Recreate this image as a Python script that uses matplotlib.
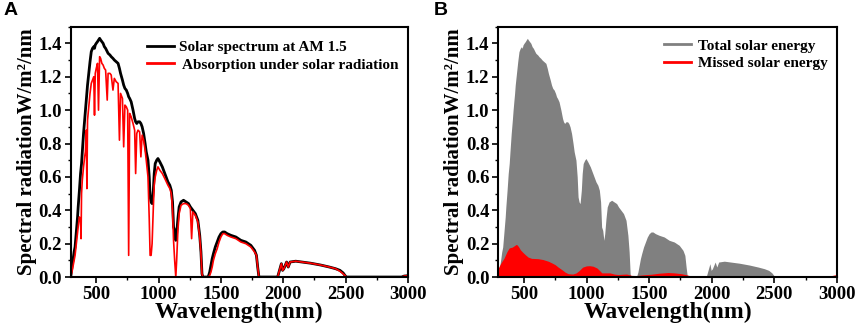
import matplotlib.pyplot as plt
from matplotlib.lines import Line2D
from matplotlib.ticker import MultipleLocator

# wavelength grid (nm) for the AM 1.5 spectrum and the absorbed part
wl = [295, 305, 315, 322, 330, 340, 350, 355, 365, 374, 378, 382, 388, 398, 407,
      413, 420, 425, 430, 440, 450, 460, 470, 480, 486, 492, 500, 510, 518, 527,
      535, 545, 555, 565, 575, 588, 595, 610, 620, 634, 645, 660, 675, 686, 695,
      710, 720, 730, 741, 752, 760, 768, 780, 795, 808, 816, 825, 835, 848, 858,
      868, 880, 892, 901, 915, 925, 932, 940, 948, 958, 965, 973, 985, 995, 1010,
      1030, 1050, 1075, 1090, 1102, 1112, 1120, 1129, 1138, 1145, 1155, 1165, 1180, 1200, 1220,
      1240, 1255, 1265, 1275, 1295, 1315, 1330, 1340, 1348, 1355, 1398, 1410, 1420, 1430, 1440,
      1455, 1470, 1485, 1500, 1515, 1530, 1550, 1580, 1620, 1660, 1700, 1740, 1770, 1785, 1795,
      1805, 1955, 1970, 1985, 1995, 2005, 2027, 2040, 2055, 2100, 2150, 2220, 2300, 2370, 2420,
      2455, 2480, 2495, 2505, 2950, 2970, 3000]

solar = [0.0, 0.06, 0.11, 0.15, 0.18, 0.27, 0.36, 0.42, 0.52, 0.62, 0.65, 0.68, 0.75, 0.86, 0.94,
         1.00, 1.06, 1.10, 1.15, 1.22, 1.29, 1.35, 1.37, 1.38, 1.37, 1.39, 1.40, 1.41, 1.42, 1.43,
         1.42, 1.41, 1.40, 1.38, 1.37, 1.35, 1.34, 1.33, 1.32, 1.31, 1.30, 1.29, 1.28, 1.25, 1.22,
         1.18, 1.15, 1.13, 1.12, 1.10, 1.08, 1.07, 1.05, 1.00, 0.95, 0.93, 0.92, 0.93, 0.93, 0.92,
         0.90, 0.86, 0.80, 0.75, 0.70, 0.60, 0.48, 0.45, 0.44, 0.52, 0.62, 0.68, 0.70, 0.71, 0.69,
         0.66, 0.62, 0.57, 0.55, 0.52, 0.45, 0.30, 0.28, 0.22, 0.26, 0.35, 0.42, 0.45, 0.46, 0.45,
         0.44, 0.42, 0.41, 0.40, 0.38, 0.34, 0.25, 0.15, 0.02, 0.0, 0.0, 0.03, 0.07, 0.11, 0.14,
         0.18, 0.21, 0.24, 0.26, 0.27, 0.27, 0.26, 0.25, 0.24, 0.22, 0.21, 0.19, 0.16, 0.13, 0.06,
         0.0, 0.0, 0.04, 0.08, 0.04, 0.05, 0.09, 0.06, 0.09, 0.095, 0.09, 0.083, 0.072, 0.06, 0.05,
         0.04, 0.025, 0.01, 0.0, 0.0, 0.006, 0.008]

absorbed = [0.0, 0.03, 0.07, 0.10, 0.13, 0.20, 0.27, 0.30, 0.36, 0.34, 0.23, 0.50, 0.58, 0.66, 0.72,
            0.75, 0.88, 0.53, 0.94, 1.02, 1.10, 1.16, 1.18, 1.20, 0.97, 1.22, 1.25, 1.28, 1.00, 1.32,
            1.31, 1.28, 1.27, 1.25, 1.24, 1.06, 1.22, 1.22, 1.21, 1.12, 1.19, 1.17, 1.16, 0.82, 1.10,
            1.07, 0.78, 1.03, 1.02, 1.00, 0.13, 0.98, 0.96, 0.92, 0.88, 0.62, 0.86, 0.88, 0.87, 0.72,
            0.85, 0.82, 0.76, 0.70, 0.60, 0.35, 0.13, 0.13, 0.20, 0.42, 0.55, 0.60, 0.64, 0.66, 0.64,
            0.62, 0.59, 0.55, 0.53, 0.50, 0.40, 0.22, 0.10, 0.0, 0.10, 0.28, 0.38, 0.43, 0.44, 0.44,
            0.43, 0.41, 0.23, 0.39, 0.37, 0.33, 0.24, 0.14, 0.02, 0.0, 0.0, 0.01, 0.03, 0.06, 0.10,
            0.14, 0.17, 0.21, 0.24, 0.26, 0.26, 0.25, 0.24, 0.23, 0.21, 0.20, 0.18, 0.15, 0.13, 0.06,
            0.0, 0.0, 0.04, 0.08, 0.04, 0.05, 0.09, 0.06, 0.09, 0.095, 0.09, 0.083, 0.072, 0.06, 0.05,
            0.035, 0.02, 0.01, 0.0, 0.0, 0.006, 0.008]

# missed (not absorbed) solar energy, panel B
wl_missed = [295, 300, 306, 320, 346, 370, 386, 410, 439, 450, 466, 485, 506, 530, 559,
             612, 650, 692, 720, 745, 770, 799, 825, 852, 890, 919, 945, 972, 1000, 1025,
             1050, 1079, 1100, 1119, 1150, 1185, 1220, 1251, 1290, 1319, 1359, 1398, 1450, 1518, 1580,
             1651, 1700, 1758, 1800, 1825, 2500, 2950, 2985, 3000]
missed = [0.0, 0.05, 0.06, 0.08, 0.11, 0.15, 0.17, 0.175, 0.19, 0.18, 0.16, 0.145, 0.13, 0.115, 0.107,
          0.105, 0.10, 0.09, 0.08, 0.07, 0.055, 0.04, 0.025, 0.015, 0.013, 0.02, 0.035, 0.055, 0.062, 0.063,
          0.06, 0.05, 0.035, 0.02, 0.02, 0.02, 0.013, 0.01, 0.012, 0.013, 0.005, 0.004, 0.008, 0.012, 0.018,
          0.022, 0.02, 0.015, 0.008, 0.003, 0.003, 0.003, 0.008, 0.01]

serif = 'Liberation Serif'
plt.rcParams['font.family'] = serif
plt.rcParams['font.weight'] = 'bold'

fig = plt.figure(figsize=(8.58, 3.33), dpi=100)
axA = fig.add_axes([0.0824, 0.168, 0.393, 0.752])
axB = fig.add_axes([0.5808, 0.168, 0.3947, 0.752])

axA.plot(wl, solar, color='black', lw=2.0)
axA.plot(wl, absorbed, color='red', lw=1.2)
axA.legend(handles=[Line2D([], [], color='black', lw=2.0), Line2D([], [], color='red', lw=2.0)],
           labels=['Solar spectrum at AM 1.5', ' Absorption under solar radiation'],
           loc='upper right', bbox_to_anchor=(1.012, 1.0), frameon=False, fontsize=11,
           handlelength=1.8, handletextpad=0.3, labelspacing=0.25, borderaxespad=0.5)

axB.fill_between(wl, solar, 0, color='#808080', lw=0)
axB.fill_between(wl_missed, missed, 0, color='red', edgecolor='red', lw=1.2)
axB.legend(handles=[Line2D([], [], color='#808080', lw=2.0), Line2D([], [], color='red', lw=2.0)],
           labels=['Total solar energy', 'Missed solar energy'],
           loc='upper right', bbox_to_anchor=(1.012, 1.006), frameon=False, fontsize=11,
           handlelength=1.8, handletextpad=0.4, labelspacing=0.25, borderaxespad=0.5)

for ax, letter in [(axA, 'A'), (axB, 'B')]:
    ax.set_xlim(295, 3000)
    ax.set_ylim(0, 1.5)
    ax.xaxis.set_major_locator(MultipleLocator(500))
    ax.xaxis.set_minor_locator(MultipleLocator(250))
    ax.yaxis.set_minor_locator(MultipleLocator(0.1))
    ax.set_yticks([0, 0.2, 0.4, 0.6, 0.8, 1.0, 1.2, 1.4])
    ax.tick_params(which='major', direction='out', length=4.5, width=1.2, labelsize=13.5, pad=2)
    ax.tick_params(which='minor', direction='out', length=2.5, width=1.0)
    for lab in ax.get_xticklabels() + ax.get_yticklabels():
        lab.set_fontweight('bold')
    for sp in ax.spines.values():
        sp.set_linewidth(1.5)
    ax.set_xlabel('Wavelength(nm)', fontsize=17, fontweight='bold', labelpad=-1)
    ax.set_ylabel('Spectral radiationW/m²/nm', fontsize=15, fontweight='bold', labelpad=1)

fig.text(0.004, 0.955, 'A', fontsize=14, fontweight='bold', family='Liberation Sans')
fig.text(0.505, 0.955, 'B', fontsize=14, fontweight='bold', family='Liberation Sans')

fig.savefig('out.png', dpi=100)
